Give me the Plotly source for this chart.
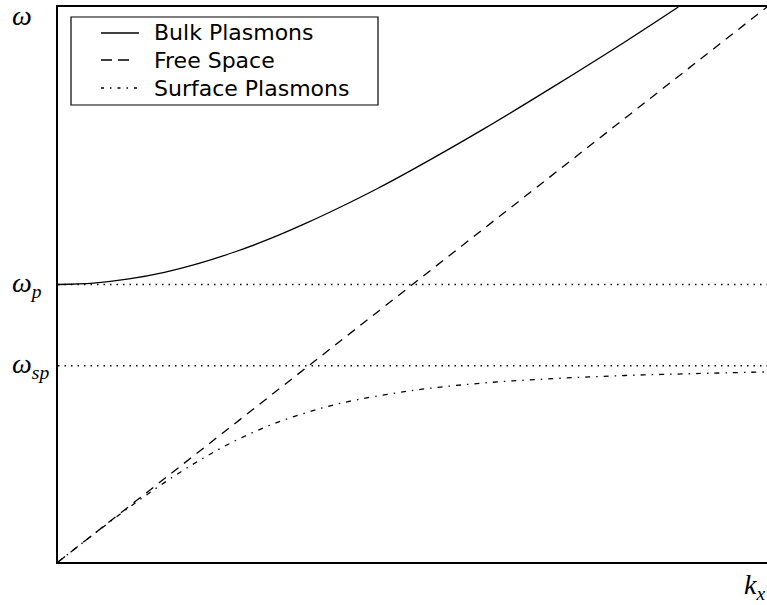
import plotly.graph_objects as go

# Wavevector samples (units of omega_p / c) and frequencies (units of omega_p)
k_bulk = [0.0, 0.1, 0.2, 0.3, 0.4, 0.5, 0.6, 0.7, 0.8, 0.9, 1.0, 1.2, 1.4, 1.6, 1.75]
w_bulk = [1.0, 1.005, 1.02, 1.044, 1.077, 1.118, 1.166, 1.221, 1.281, 1.345,
          1.414, 1.56, 1.715, 1.875, 2.0]

k_free = [0.0, 2.0]
w_free = [0.0, 2.0]

k_surf = [0.0, 0.1, 0.2, 0.3, 0.4, 0.5, 0.6, 0.7, 0.8, 1.0, 1.2, 1.4, 1.6, 1.8, 2.0]
w_surf = [0.0, 0.0995, 0.196, 0.286, 0.367, 0.437, 0.494, 0.538, 0.573,
          0.618, 0.645, 0.661, 0.672, 0.679, 0.685]

w_p = 1.0
w_sp = 0.707
k_max = 2.0
w_max = 2.0

series_names = ["Bulk Plasmons", "Free Space", "Surface Plasmons"]

W, H = 767, 605
L, R, T, B = 58, 0, 7, 43
PW, PH = W - L - R, H - T - B

SOLID = "solid"
DASHED = "9px,7px"
DASHDOT = "5px,6px,1.5px,6px"
DOTTED = "1.5px,5px"


def px(xp):
    return (xp - L) / PW


def py(yp):
    return 1 - (yp - T) / PH


fig = go.Figure()
fig.add_trace(go.Scatter(x=k_bulk, y=w_bulk, mode="lines", name=series_names[0],
                         showlegend=False,
                         line=dict(color="black", width=1.3, shape="spline")))
fig.add_trace(go.Scatter(x=k_free, y=w_free, mode="lines", name=series_names[1],
                         showlegend=False,
                         line=dict(color="black", width=1.3, dash=DASHED)))
fig.add_trace(go.Scatter(x=k_surf, y=w_surf, mode="lines", name=series_names[2],
                         showlegend=False,
                         line=dict(color="black", width=1.3, shape="spline", dash=DASHDOT)))

# Horizontal reference levels at omega_p and omega_sp
for lvl in (w_p, w_sp):
    fig.add_trace(go.Scatter(x=[0, k_max], y=[lvl, lvl], mode="lines", showlegend=False,
                             hoverinfo="skip",
                             line=dict(color="black", width=1.4, dash=DOTTED)))

# Boxed legend in the upper-left corner
shapes = [dict(type="rect", xref="paper", yref="paper",
               x0=px(71), x1=px(378), y0=py(105), y1=py(17),
               line=dict(color="black", width=1.2), fillcolor="white", layer="above")]
legend_rows = [33, 60, 88]
legend_dash = [SOLID, "11px,6px", "3px,6px,1.5px,6px"]
legend_end = [139, 129, 139]
ann = []
for name, row, dash, x_end in zip(series_names, legend_rows, legend_dash, legend_end):
    shapes.append(dict(type="line", xref="paper", yref="paper",
                       x0=px(101), x1=px(x_end), y0=py(row), y1=py(row),
                       line=dict(color="black", width=1.3, dash=dash), layer="above"))
    ann.append(dict(x=px(152), y=py(row), xref="paper", yref="paper", text=name,
                    showarrow=False, xanchor="left", yanchor="middle",
                    font=dict(family="DejaVu Sans", size=22, color="black")))

serif = "Liberation Serif, DejaVu Serif, serif"
ann.append(dict(x=-48 / PW, y=w_max * 0.985, xref="paper", yref="y",
                text="<i>ω</i>", showarrow=False, xanchor="left", yanchor="middle",
                font=dict(family=serif, size=28, color="black")))
ann.append(dict(x=-48 / PW, y=w_p, xref="paper", yref="y",
                text="<i>ω<sub>p</sub></i>", showarrow=False, xanchor="left",
                yanchor="middle", font=dict(family=serif, size=28, color="black")))
ann.append(dict(x=-48 / PW, y=w_sp, xref="paper", yref="y",
                text="<i>ω<sub>sp</sub></i>", showarrow=False, xanchor="left",
                yanchor="middle", font=dict(family=serif, size=28, color="black")))
ann.append(dict(x=1.0, y=0, xref="paper", yref="paper", yshift=-24,
                text="<i>k<sub>x</sub></i>", showarrow=False, xanchor="right",
                yanchor="middle", font=dict(family=serif, size=28, color="black")))

fig.update_layout(
    width=W, height=H,
    margin=dict(l=L, r=R, t=T, b=B),
    paper_bgcolor="white", plot_bgcolor="white",
    showlegend=False,
    shapes=shapes,
    annotations=ann,
    xaxis=dict(range=[0, k_max], showgrid=False, zeroline=False, showticklabels=False,
               ticks="", showline=True, mirror=True, linecolor="black", linewidth=1.8),
    yaxis=dict(range=[0, w_max], showgrid=False, zeroline=False, showticklabels=False,
               ticks="", showline=True, mirror=False, linecolor="black", linewidth=1.8),
)

fig.write_html("out.html")
